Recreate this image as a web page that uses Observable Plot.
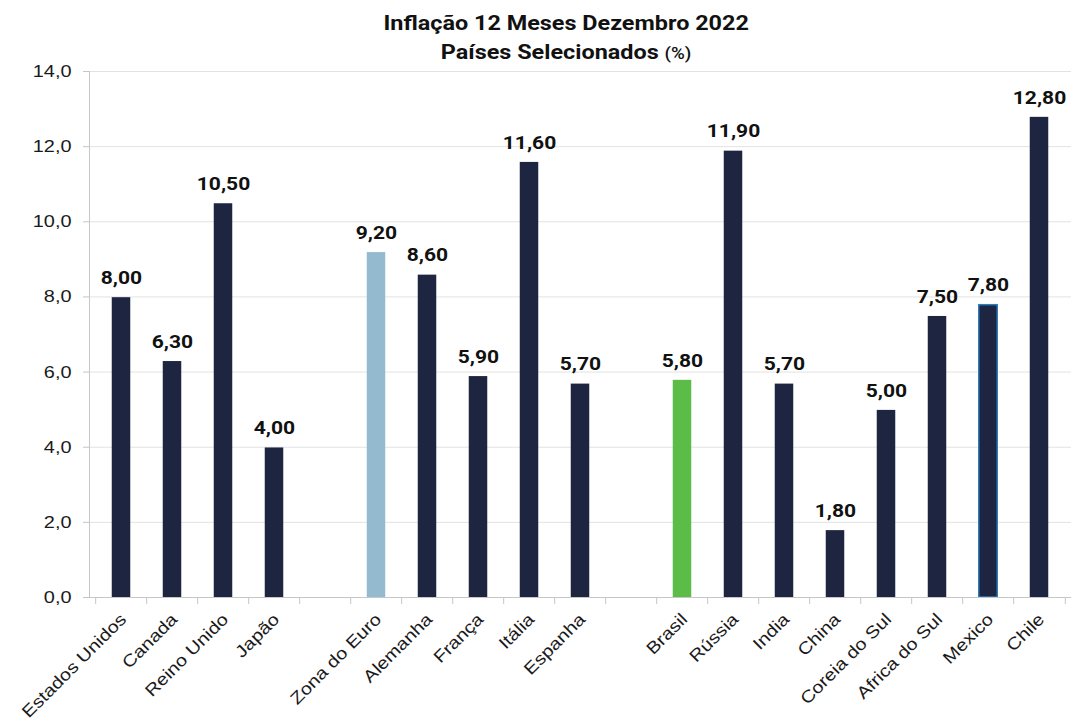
<!DOCTYPE html>
<html>
<head>
<meta charset="utf-8">
<script src="https://cdn.jsdelivr.net/npm/d3@7"></script>
<script src="https://cdn.jsdelivr.net/npm/@observablehq/plot@0.6"></script>
<style>
  body { margin: 0; background: #fff; }
  #title {
    height: 62px; box-sizing: border-box; padding-top: 9px; padding-left: 60px;
    text-align: center; font-family: Roboto, sans-serif; font-weight: bold;
    font-size: 20px; line-height: 29px; color: #111;
  }
  #title .line { display: inline-block; transform: scaleX(1.17); transform-origin: center; }
  #title .unit { font-size: 16px; font-weight: 500; }
</style>
</head>
<body>
<div id="title"><span class="line">Inflação 12 Meses Dezembro 2022</span><br><span class="line">Países Selecionados <span class="unit">(%)</span></span></div>
<div id="chart"></div>
<script>
// Twelve-month inflation, December 2022 (%)
const countries = ["Estados Unidos", "Canada", "Reino Unido", "Japão",
  "Zona do Euro", "Alemanha", "França", "Itália", "Espanha",
  "Brasil", "Rússia", "India", "China", "Coreia do Sul", "Africa do Sul", "Mexico", "Chile"];
const inflation = [8.0, 6.3, 10.5, 4.0, 9.2, 8.6, 5.9, 11.6, 5.7, 5.8, 11.9, 5.7, 1.8, 5.0, 7.5, 7.8, 12.8];
// Empty slots separate the groups of countries
const groupBreaksAfter = ["Japão", "Espanha"];
const yTicks = [0, 2, 4, 6, 8, 10, 12, 14];

const navy = "#1e2540";
const highlight = new Map([["Zona do Euro", "#93bacf"], ["Brasil", "#5cbc48"]]);
const outlined = new Map([["Mexico", "#2b7cc0"]]);

// the chart's lettering is set slightly wide
const textStretch = 1.17;

const data = countries.map((c, i) => ({country: c, value: inflation[i]}));

// x domain with blank spacer slots between the groups
const slots = [];
let gap = 0;
for (const c of countries) {
  slots.push(c);
  if (groupBreaksAfter.includes(c)) slots.push(" ".repeat(++gap));
}

const width = 1073, marginLeft = 89, marginRight = 2;
const step = (width - marginLeft - marginRight) / slots.length;

const num2 = d => d.toFixed(2).replace(".", ",");
const num1 = d => d.toFixed(1).replace(".", ",");

const chart = Plot.plot({
  width,
  height: 660,
  marginLeft,
  marginRight,
  marginTop: 9,
  marginBottom: 125,
  style: {background: "#fff", color: "#111"},
  x: {domain: slots, paddingInner: 0.61, paddingOuter: 0.305, align: 0.5},
  y: {domain: [0, 14]},
  marks: [
    Plot.gridY(yTicks.slice(1), {stroke: "#e2e2e2", strokeOpacity: 1}),
    Plot.barY(data, {
      x: "country", y: "value",
      fill: d => highlight.get(d.country) ?? navy,
      stroke: d => outlined.get(d.country) ?? "none",
      strokeWidth: 1.5,
      insetTop: 0.75, insetLeft: 0.75, insetRight: 0.75, insetBottom: 0
    }),
    Plot.text(data, {
      x: "country", y: "value", text: d => num2(d.value),
      lineAnchor: "bottom", dy: -13,
      fontFamily: "Roboto", fontWeight: "bold", fontSize: 18, fill: "#111"
    }),
    // axis lines
    Plot.frame({anchor: "left", stroke: "#c6c6c6", strokeOpacity: 1}),
    Plot.ruleY([0], {stroke: "#c6c6c6"}),
    // category boundary ticks below the axis
    Plot.ruleX(slots, {x: d => d, y1: 0, y2: 0, insetBottom: -7, dx: -step / 2, stroke: "#c6c6c6"}),
    Plot.ruleX(slots.slice(-1), {x: d => d, y1: 0, y2: 0, insetBottom: -7, dx: step / 2, stroke: "#c6c6c6"}),
    Plot.axisY({
      ticks: yTicks, tickFormat: num1, tickSize: 6, tickPadding: 12,
      stroke: "#c6c6c6", fill: "#1a1a1a",
      fontSize: 17, fontFamily: "Liberation Sans", label: null
    }),
    Plot.axisX({
      tickRotate: -45, tickSize: 0, tickPadding: 19, dx: 2,
      fill: "#1a1a1a", fontSize: 17, fontFamily: "Liberation Sans", label: null
    })
  ]
});

// widen every label along its own baseline, about its anchor point
for (const t of chart.querySelectorAll("text")) {
  const tr = t.getAttribute("transform");
  const s = ` scale(${textStretch},1)`;
  if (tr && tr.includes("rotate(")) {
    const end = tr.indexOf(")", tr.indexOf("rotate(")) + 1;
    t.setAttribute("transform", tr.slice(0, end) + s + tr.slice(end));
  } else if (tr && tr.startsWith("translate(")) {
    const end = tr.indexOf(")") + 1;
    t.setAttribute("transform", tr.slice(0, end) + s + tr.slice(end));
  } else {
    const x = +t.getAttribute("x") || 0, y = +t.getAttribute("y") || 0;
    t.setAttribute("x", 0); t.setAttribute("y", 0);
    t.setAttribute("transform", `translate(${x},${y})` + s + (tr ? " " + tr : ""));
  }
}

document.getElementById("chart").append(chart);
</script>
</body>
</html>
